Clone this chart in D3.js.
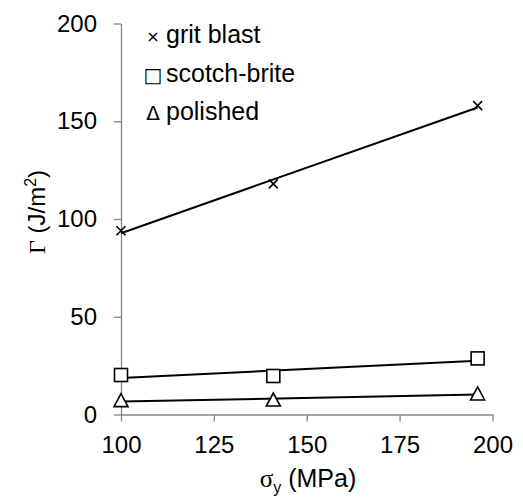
<!DOCTYPE html>
<html>
<head>
<meta charset="utf-8">
<script src="https://cdn.jsdelivr.net/npm/d3@7"></script>
<style>
  body { margin: 0; background: #fff; }
  text { font-family: "Liberation Sans", Arial, sans-serif; fill: #000; }
</style>
</head>
<body>
<div id="chart"></div>
<script>
// sigma_y values (MPa)
const yieldStress = [100, 141, 196];
// Gamma (J/m^2) per surface finish
const gritBlast = [94, 118, 158];
const scotchBrite = [20.2, 19.7, 28.7];
const polished = [7.1, 7.4, 10.5];

const xTicks = [100, 125, 150, 175, 200];
const yTicks = [0, 50, 100, 150, 200];

const legendLabels = ['grit blast', 'scotch-brite', 'polished'];
const legendGlyphs = ['\u00d7', '\u25a1', '\u0394'];

(function(){
    const width = 523, height = 497;
    const plot = { left: 121, right: 492.5, top: 23.5, bottom: 414.5 };
    const axisColor = '#868686';

    const svg = d3.select('#chart')
        .append('svg')
            .attr('width', width)
            .attr('height', height);

    const xScale = d3.scaleLinear()
        .domain([100, 200])
        .range([plot.left, plot.right]);

    const yScale = d3.scaleLinear()
        .domain([0, 200])
        .range([plot.bottom, plot.top]);

    const xAxis = d3.axisBottom(xScale)
        .tickValues(xTicks)
        .tickSizeInner(7)
        .tickSizeOuter(0)
        .tickPadding(14);

    const yAxis = d3.axisLeft(yScale)
        .tickValues(yTicks)
        .tickSizeInner(7)
        .tickSizeOuter(0)
        .tickPadding(17);

    const gx = svg.append('g')
        .attr('transform', `translate(0, ${plot.bottom})`)
        .call(xAxis);
    const gy = svg.append('g')
        .attr('transform', `translate(${plot.left}, 0)`)
        .call(yAxis);

    [gx, gy].forEach(g => {
        g.selectAll('path, line').attr('stroke', axisColor).attr('stroke-width', 1.3);
        g.selectAll('text')
            .attr('fill', '#000')
            .style('font-family', '"Liberation Sans", Arial, sans-serif')
            .style('font-size', '24px');
    });

    // least-squares trend line for a series
    function trend(ys) {
        const mx = d3.mean(yieldStress), my = d3.mean(ys);
        let sxy = 0, sxx = 0;
        yieldStress.forEach((x, i) => {
            sxy += (x - mx) * (ys[i] - my);
            sxx += (x - mx) * (x - mx);
        });
        const b = sxy / sxx;
        const x0 = d3.min(yieldStress), x1 = d3.max(yieldStress);
        return [[x0, my + b * (x0 - mx)], [x1, my + b * (x1 - mx)]];
    }

    const line = d3.line()
        .x(d => xScale(d[0]))
        .y(d => yScale(d[1]));

    const seriesList = [
        { values: gritBlast, marker: 'cross' },
        { values: scotchBrite, marker: 'square' },
        { values: polished, marker: 'triangle' },
    ];

    seriesList.forEach(s => {
        svg.append('path')
            .datum(trend(s.values))
            .attr('d', line)
            .attr('fill', 'none')
            .attr('stroke', '#000')
            .attr('stroke-width', 2);
    });

    seriesList.forEach(s => {
        const pts = svg.append('g')
            .selectAll('g')
            .data(s.values.map((v, i) => [yieldStress[i], v]))
            .enter()
            .append('g')
                .attr('transform', d => `translate(${xScale(d[0])}, ${yScale(d[1])})`);

        if (s.marker === 'cross') {
            pts.append('path')
                .attr('d', 'M-4.5,-4.5L4.5,4.5M-4.5,4.5L4.5,-4.5')
                .attr('stroke', '#000')
                .attr('stroke-width', 1.6);
        } else if (s.marker === 'square') {
            pts.append('rect')
                .attr('x', -6.5).attr('y', -6.5)
                .attr('width', 13).attr('height', 13)
                .attr('fill', '#fff')
                .attr('stroke', '#000')
                .attr('stroke-width', 1.6);
        } else {
            pts.append('path')
                .attr('d', 'M0,-7L7,6L-7,6Z')
                .attr('fill', '#fff')
                .attr('stroke', '#000')
                .attr('stroke-width', 1.6);
        }
    });

    // legend (text box in the source chart)
    const legend = svg.append('g');
    legendLabels.forEach((label, i) => {
        const y = 43 + i * 38.5;
        legend.append('text')
            .attr('x', 153)
            .attr('y', y - (i === 0 ? 1 : 0))
            .attr('text-anchor', 'middle')
            .style('font-size', i === 0 ? '16px' : '20px')
            .style('font-family', '"DejaVu Sans", sans-serif')
            .text(legendGlyphs[i]);
        legend.append('text')
            .attr('x', 166)
            .attr('y', y)
            .style('font-size', '25px')
            .text(label);
    });

    // axis titles
    const xt = svg.append('text')
        .attr('x', 308)
        .attr('y', 487)
        .attr('text-anchor', 'middle')
        .style('font-size', '25px');
    xt.append('tspan')
        .style('font-family', '"Liberation Serif", serif')
        .text('\u03c3');
    xt.append('tspan')
        .attr('dy', 6)
        .style('font-size', '16px')
        .text('y');
    xt.append('tspan')
        .attr('dy', -6)
        .text(' (MPa)');

    const yt = svg.append('text')
        .attr('transform', 'translate(45, 212) rotate(-90)')
        .attr('text-anchor', 'middle')
        .style('font-size', '24px');
    yt.append('tspan')
        .style('font-family', '"Liberation Serif", serif')
        .text('\u0393');
    yt.append('tspan')
        .text(' (J/m');
    yt.append('tspan')
        .attr('dy', -9)
        .style('font-size', '16px')
        .text('2');
    yt.append('tspan')
        .attr('dy', 9)
        .text(')');
}())
</script>
</body>
</html>
